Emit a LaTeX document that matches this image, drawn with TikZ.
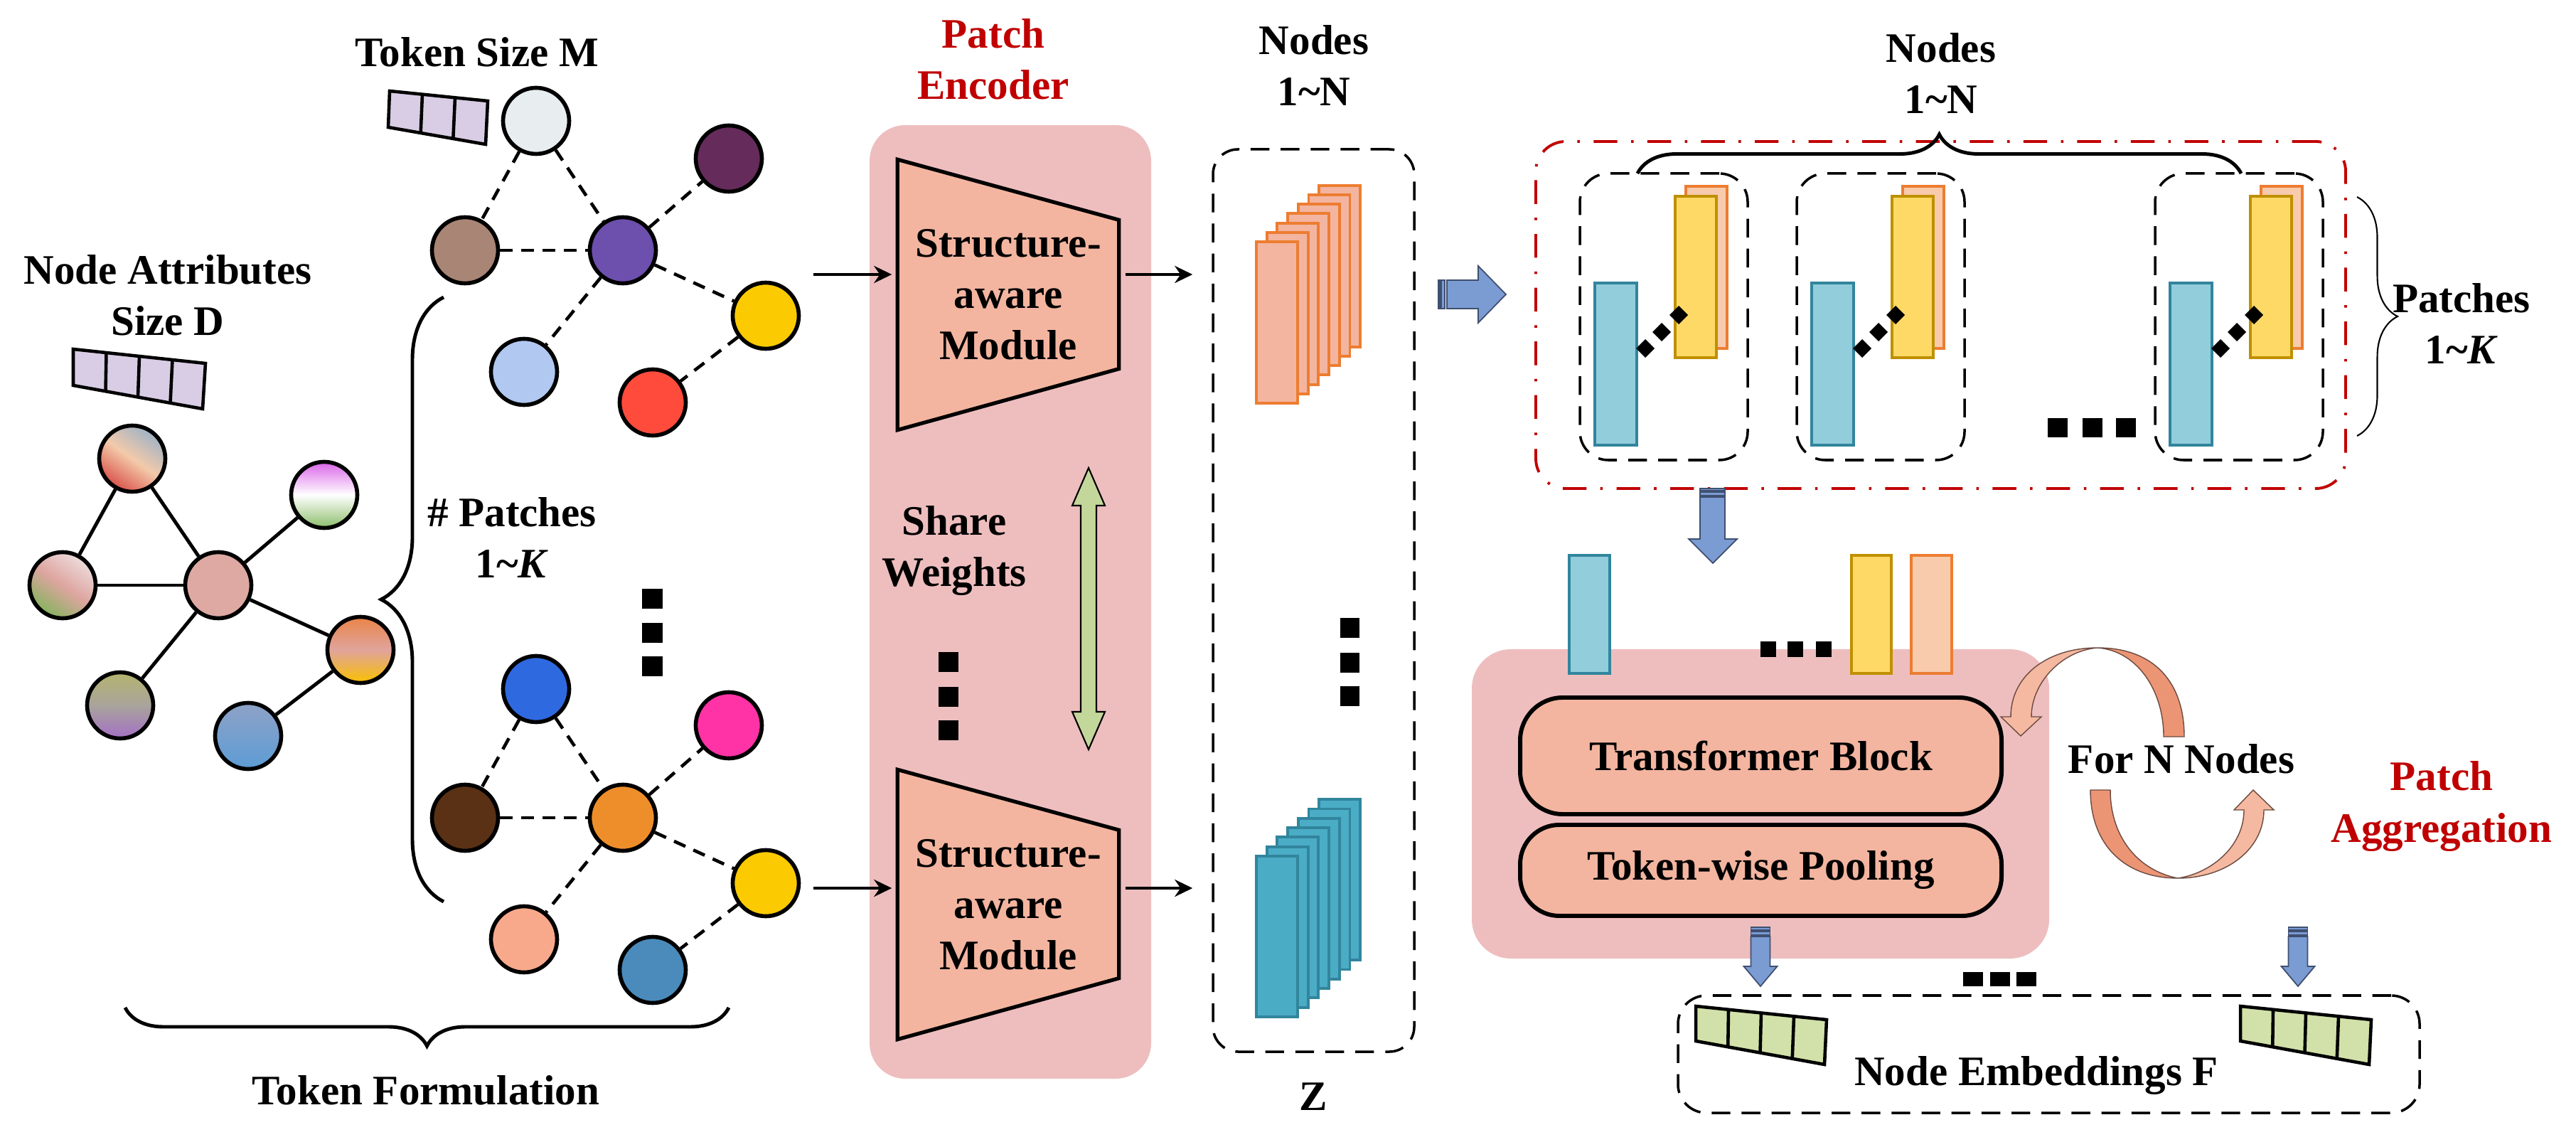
\documentclass[tikz,border=0pt]{standalone}
\usepackage{fontspec}
\setmainfont{Liberation Serif}
\usetikzlibrary{calc,positioning,arrows.meta,decorations.pathreplacing}

\definecolor{pinkbg}{HTML}{EEBEBF}
\definecolor{salmon}{HTML}{F3B5A0}
\definecolor{redtxt}{HTML}{C00000}
\definecolor{lavender}{HTML}{D8CDE4}
\definecolor{vecgreen}{HTML}{D1E1A9}
\definecolor{sharegreen}{HTML}{C4D79B}
\definecolor{arrblue}{HTML}{7B9BD3}
\definecolor{arrline}{HTML}{3F4F6F}
\definecolor{orangeline}{HTML}{ED7D31}
\definecolor{orangefill}{HTML}{F8CBAD}
\definecolor{tealline}{HTML}{31859C}
\definecolor{tealfill}{HTML}{92CDDC}
\definecolor{tealdark}{HTML}{4BACC6}
\definecolor{yellowfill}{HTML}{FFD966}
\definecolor{yellowline}{HTML}{BF9000}
\definecolor{loopdark}{HTML}{EC9575}
\definecolor{looplight}{HTML}{F4B9A0}
\definecolor{loopline}{HTML}{6B4A40}
% colours of the graph nodes
\definecolor{cgray}{HTML}{9EB2C6}
\definecolor{cpeach}{HTML}{F3CAAA}
\definecolor{cbrick}{HTML}{D9534A}
\definecolor{cmagenta}{HTML}{DA64E8}
\definecolor{cleaf}{HTML}{8BBD6A}
\definecolor{cblush}{HTML}{EDDCDC}
\definecolor{crose}{HTML}{DEA5A0}
\definecolor{cmoss}{HTML}{86B35F}
\definecolor{cdusty}{HTML}{DEA9A3}
\definecolor{ctangerine}{HTML}{E98448}
\definecolor{cpinkmid}{HTML}{E0A49C}
\definecolor{camber}{HTML}{F9C000}
\definecolor{colive}{HTML}{B5B46E}
\definecolor{cstone}{HTML}{A8A49C}
\definecolor{clilac}{HTML}{A56FC5}
\definecolor{csteelgray}{HTML}{8EA2C6}
\definecolor{csky}{HTML}{5D9CD6}
\definecolor{cmist}{HTML}{E8EDF0}
\definecolor{cmocha}{HTML}{A98575}
\definecolor{cviolet}{HTML}{6D4FAE}
\definecolor{cplum}{HTML}{652B5B}
\definecolor{cgold}{HTML}{FBCA00}
\definecolor{cbaby}{HTML}{B1C8F0}
\definecolor{ctomato}{HTML}{FF4B3C}
\definecolor{croyal}{HTML}{2F69E0}
\definecolor{cchoco}{HTML}{5A3114}
\definecolor{cpumpkin}{HTML}{EE8E2A}
\definecolor{chotpink}{HTML}{FF33A6}
\definecolor{capricot}{HTML}{F9A98B}
\definecolor{csteel}{HTML}{4A8BBC}

% feature vector: corners TL, TR, BR, BL, number of cells, fill
\newcommand{\featvec}[6]{%
  \draw[line width=1.3pt, fill=#6] #1 -- #2 -- #3 -- #4 -- cycle;
  \pgfmathtruncatemacro{\lastcut}{#5-1}
  \foreach \k in {1,...,\lastcut}
    \draw[line width=1.3pt] ($#1!\k/#5!#2$) -- ($#4!\k/#5!#3$);
}

\begin{document}
\begin{tikzpicture}[
    lbl/.style={font=\fontsize{16.8}{20.5}\selectfont\bfseries, align=center, inner sep=0pt},
    gnode/.style={circle, draw, line width=1.6pt, minimum size=0.93cm, inner sep=0pt},
    aedge/.style={line width=1.4pt},
    pedge/.style={line width=1.3pt, dash pattern=on 5pt off 3.5pt},
    arr/.style={-{Stealth[length=0.25cm, width=0.24cm]}, line width=1.2pt},
    dbox/.style={draw, line width=1pt, dash pattern=on 7.5pt off 4.5pt, rounded corners=0.4cm, inner sep=0pt},
    bracedeco/.style={decorate, decoration={brace, amplitude=#1}, line width=1.4pt},
    blockarr/.style={fill=arrblue, draw=arrline, line width=0.5pt},
    loopdk/.style={fill=loopdark, draw=loopline, line width=0.4pt},
    looplt/.style={fill=looplight, draw=loopline, line width=0.4pt}
  ]
  \useasboundingbox (0,0) rectangle (36.23,-16.06);

  % input graph with node attributes
  \node[lbl, anchor=base] (attrlbl) at (2.36,-4.72) {Node Attributes\\Size D};
  \featvec{(1.03,-4.91)}{(2.89,-5.11)}{(2.85,-5.75)}{(1.03,-5.42)}{4}{lavender}
  \node[gnode, top color=cgray, bottom color=cbrick, middle color=cpeach, shading angle=-35] (na1) at (1.86,-6.45) {};
  \node[gnode, top color=cmagenta, bottom color=cleaf, middle color=white] (na2) at (4.56,-6.96) {};
  \node[gnode, top color=cblush, bottom color=cmoss, middle color=crose, shading angle=-35] (na3) at (0.88,-8.23) {};
  \node[gnode, fill=cdusty] (na4) at (3.07,-8.23) {};
  \node[gnode, top color=ctangerine, bottom color=camber, middle color=cpinkmid] (na5) at (5.07,-9.14) {};
  \node[gnode, top color=colive, bottom color=clilac, middle color=cstone] (na6) at (1.69,-9.92) {};
  \node[gnode, top color=csteelgray, bottom color=csky] (na7) at (3.49,-10.35) {};
  \draw[aedge] (na1) -- (na3);
  \draw[aedge] (na1) -- (na4);
  \draw[aedge] (na3) -- (na4);
  \draw[aedge] (na4) -- (na2);
  \draw[aedge] (na4) -- (na5);
  \draw[aedge] (na4) -- (na6);
  \draw[aedge] (na5) -- (na7);

  % patches
  \draw[bracedeco=0.88cm] (6.24,-12.68) -- (6.24,-4.18);
  \node[lbl, anchor=base] (numpatch) at (7.20,-8.13) {\# Patches\\1\textasciitilde\textit{K}};
  \node[lbl, anchor=base] (toklbl) at (6.71,-0.94) {Token Size M};
  \featvec{(5.48,-1.28)}{(6.86,-1.42)}{(6.83,-2.03)}{(5.46,-1.79)}{3}{lavender}

  % first patch
  \node[gnode, fill=cmist] (t1) at (7.54,-1.70) {};
  \node[gnode, fill=cmocha] (t2) at (6.54,-3.52) {};
  \node[gnode, fill=cviolet] (t3) at (8.76,-3.52) {};
  \node[gnode, fill=cplum] (t4) at (10.25,-2.23) {};
  \node[gnode, fill=cgold] (t5) at (10.77,-4.44) {};
  \node[gnode, fill=cbaby] (t6) at (7.37,-5.23) {};
  \node[gnode, fill=ctomato] (t7) at (9.18,-5.66) {};
  \draw[pedge] (t1) -- (t2);
  \draw[pedge] (t1) -- (t3);
  \draw[pedge] (t2) -- (t3);
  \draw[pedge] (t3) -- (t4);
  \draw[pedge] (t3) -- (t5);
  \draw[pedge] (t3) -- (t6);
  \draw[pedge] (t5) -- (t7);

  % last patch
  \node[gnode, fill=croyal] (b1) at (7.54,-9.69) {};
  \node[gnode, fill=cchoco] (b2) at (6.54,-11.50) {};
  \node[gnode, fill=cpumpkin] (b3) at (8.76,-11.50) {};
  \node[gnode, fill=chotpink] (b4) at (10.25,-10.20) {};
  \node[gnode, fill=cgold] (b5) at (10.77,-12.42) {};
  \node[gnode, fill=capricot] (b6) at (7.37,-13.21) {};
  \node[gnode, fill=csteel] (b7) at (9.18,-13.64) {};
  \draw[pedge] (b1) -- (b2);
  \draw[pedge] (b1) -- (b3);
  \draw[pedge] (b2) -- (b3);
  \draw[pedge] (b3) -- (b4);
  \draw[pedge] (b3) -- (b5);
  \draw[pedge] (b3) -- (b6);
  \draw[pedge] (b5) -- (b7);
  \foreach \y in {8.28, 8.76, 9.23}
    \fill (9.03,-\y) rectangle ++(0.29,-0.28);

  \draw[bracedeco=0.54cm] (10.25,-14.17) -- (1.76,-14.17);
  \node[lbl, anchor=base] (formlbl) at (5.99,-15.53) {Token Formulation};

  % patch encoder
  \node[lbl, anchor=base, text=redtxt] (enclbl) at (13.97,-1.40) {Patch\\Encoder};
  \fill[pinkbg, rounded corners=0.5cm] (12.23,-1.76) rectangle (16.19,-15.17);
  \node[minimum width=3.10cm, minimum height=3.79cm] (sam1) at (14.18,-4.145) {};
  \node[minimum width=3.10cm, minimum height=3.78cm] (sam2) at (14.18,-12.72) {};
  \foreach \m in {sam1, sam2}
    \draw[line width=1.5pt, fill=salmon] (\m.north west) -- ($(\m.north east)+(0,-0.85)$) -- ($(\m.south east)+(0,0.86)$) -- (\m.south west) -- cycle;
  \node[lbl] (samtxt1) at (sam1) {Structure-\\aware\\Module};
  \node[lbl] (samtxt2) at (sam2) {Structure-\\aware\\Module};
  \node[lbl, anchor=base] (sharelbl) at (13.42,-8.25) {Share\\Weights};
  \draw[line width=0.6pt, fill=sharegreen] (15.20,-7.11) -- (15.08,-7.11) -- (15.31,-6.58) -- (15.54,-7.11) -- (15.42,-7.11) -- (15.42,-10.01) -- (15.54,-10.01) -- (15.31,-10.54) -- (15.08,-10.01) -- (15.20,-10.01) -- cycle;
  \foreach \y in {9.17, 9.66, 10.13}
    \fill (13.20,-\y) rectangle ++(0.28,-0.28);

  % patch embeddings Z
  \node[lbl, anchor=base] (zhead) at (18.48,-1.49) {Nodes\\1\textasciitilde N};
  \node[dbox, rounded corners=0.35cm, minimum width=2.83cm, minimum height=12.69cm] (zbox) at (18.475,-8.445) {};
  \node[lbl, anchor=base] (zlbl) at (18.47,-15.61) {Z};
  \foreach \i in {6,...,0}
    \draw[line width=1.1pt, draw=orangeline, fill=salmon] ({17.67+0.147*\i},{-3.40+0.132*\i}) rectangle ++(0.58,-2.27);
  \foreach \i in {6,...,0}
    \draw[line width=1.1pt, draw=tealline, fill=tealdark] ({17.67+0.147*\i},{-12.04+0.133*\i}) rectangle ++(0.58,-2.26);
  \foreach \y in {8.69, 9.18, 9.65}
    \fill (18.85,-\y) rectangle ++(0.27,-0.28);

  % arrows through the encoder
  \coordinate (pin1) at (11.44,-3.86);
  \coordinate (pin2) at (11.44,-12.49);
  \draw[arr, shorten >=0.08cm] (pin1) -- (pin1 -| sam1.west);
  \draw[arr, shorten >=0.08cm] (pin2) -- (pin2 -| sam2.west);
  \draw[arr, shorten <=0.09cm, shorten >=0.27cm] (pin1 -| sam1.east) -- (pin1 -| zbox.west);
  \draw[arr, shorten <=0.09cm, shorten >=0.27cm] (pin2 -| sam2.east) -- (pin2 -| zbox.west);

  % block arrow to the patch tokens
  \draw[blockarr] (20.23,-3.94) rectangle (20.25,-4.34);
  \draw[blockarr] (20.27,-3.94) rectangle (20.32,-4.34);
  \draw[blockarr] (20.35,-3.94) -- (20.79,-3.94) -- (20.79,-3.74) -- (21.18,-4.14) -- (20.79,-4.54) -- (20.79,-4.34) -- (20.35,-4.34) -- cycle;

  % patch tokens of all nodes
  \node[draw=redtxt, line width=1.1pt, dash pattern=on 9.5pt off 5.5pt on 1pt off 5.5pt, rounded corners=0.42cm, minimum width=11.39cm, minimum height=4.88cm, inner sep=0pt] (redbox) at (27.295,-4.43) {};
  \foreach \bx [count=\i] in {22.22, 25.27, 30.31} {
    \node[dbox, minimum width=2.36cm, minimum height=4.03cm] (pbox\i) at (\bx+1.18,-4.455) {};
    \draw[line width=1.1pt, draw=orangeline, fill=orangefill] (\bx+1.49,-2.62) rectangle (\bx+2.07,-4.90);
    \draw[line width=1.1pt, draw=yellowline, fill=yellowfill] (\bx+1.34,-2.76) rectangle (\bx+1.92,-5.03);
    \draw[line width=1.1pt, draw=tealline, fill=tealfill] (\bx+0.21,-3.98) rectangle (\bx+0.80,-6.26);
    \foreach \dx/\dy in {0.92/4.90, 1.15/4.67, 1.39/4.43}
      \fill (\bx+\dx,-\dy) +(0,0.13) -- +(0.13,0) -- +(0,-0.13) -- +(-0.13,0) -- cycle;
  }
  \foreach \x in {28.80, 29.29, 29.76}
    \fill (\x,-5.88) rectangle ++(0.28,-0.27);
  \draw[bracedeco=0.55cm] (23.03,-2.44) -- (31.52,-2.44);
  \node[lbl, anchor=base] (nodeshead) at (27.30,-1.60) {Nodes\\1\textasciitilde N};
  \draw[bracedeco=0.57cm, line width=0.6pt] (33.15,-2.77) -- (33.15,-6.13);
  \node[lbl, anchor=base] (patchhead) at (34.62,-5.12) {Patches\\1\textasciitilde\textit{K}};

  % block arrow down to the aggregation
  \draw[blockarr] (23.91,-6.87) rectangle (24.26,-6.90);
  \draw[blockarr] (23.91,-6.92) rectangle (24.26,-6.97);
  \draw[blockarr] (23.91,-6.99) -- (23.91,-7.58) -- (23.75,-7.58) -- (24.09,-7.92) -- (24.43,-7.58) -- (24.26,-7.58) -- (24.26,-6.99) -- cycle;

  % patch aggregation
  \fill[pinkbg, rounded corners=0.55cm] (20.70,-9.13) rectangle (28.82,-13.48);
  \draw[line width=1.1pt, draw=tealline, fill=tealfill] (22.07,-7.81) rectangle (22.64,-9.47);
  \draw[line width=1.1pt, draw=yellowline, fill=yellowfill] (26.04,-7.81) rectangle (26.60,-9.47);
  \draw[line width=1.1pt, draw=orangeline, fill=orangefill] (26.88,-7.81) rectangle (27.45,-9.47);
  \foreach \x in {24.76, 25.14, 25.54}
    \fill (\x,-9.02) rectangle ++(0.22,-0.22);
  \node[lbl, draw, line width=1.7pt, fill=salmon, rounded corners=0.6cm, minimum width=6.77cm, minimum height=1.64cm] (tfblock) at (24.765,-10.63) {Transformer Block};
  \node[lbl, draw, line width=1.7pt, fill=salmon, rounded corners=0.55cm, minimum width=6.77cm, minimum height=1.28cm] (pool) at (24.765,-12.24) {Token-wise Pooling};

  % loop over the nodes
  \draw[loopdk] (30.72,-10.36) .. controls (30.72,-9.60) and (30.30,-9.11) .. (29.50,-9.11) .. controls (30.05,-9.15) and (30.43,-9.70) .. (30.43,-10.36) -- cycle;
  \draw[looplt] (29.50,-9.11) .. controls (28.80,-9.11) and (28.28,-9.50) .. (28.28,-10.08) -- (28.14,-10.08) -- (28.42,-10.35) -- (28.71,-10.08) -- (28.57,-10.08) .. controls (28.57,-9.60) and (29.00,-9.15) .. (29.50,-9.11) -- cycle;
  \draw[loopdk] (29.40,-11.11) .. controls (29.40,-11.90) and (29.90,-12.35) .. (30.63,-12.35) .. controls (30.10,-12.25) and (29.68,-11.80) .. (29.68,-11.11) -- cycle;
  \draw[looplt] (30.63,-12.35) .. controls (31.30,-12.35) and (31.84,-11.95) .. (31.84,-11.39) -- (31.98,-11.39) -- (31.69,-11.11) -- (31.42,-11.39) -- (31.56,-11.39) .. controls (31.56,-11.90) and (31.10,-12.28) .. (30.63,-12.35) -- cycle;
  \node[lbl, anchor=base] (fornodes) at (30.68,-10.87) {For N Nodes};
  \node[lbl, anchor=base, text=redtxt] (agglbl) at (34.34,-11.84) {Patch\\Aggregation};

  % node embeddings
  \foreach \cx in {24.76, 32.32} {
    \draw[blockarr] (\cx-0.135,-13.04) rectangle (\cx+0.135,-13.08);
    \draw[blockarr] (\cx-0.135,-13.10) rectangle (\cx+0.135,-13.15);
    \draw[blockarr] (\cx-0.135,-13.17) -- (\cx-0.135,-13.59) -- (\cx-0.235,-13.59) -- (\cx,-13.87) -- (\cx+0.235,-13.59) -- (\cx+0.135,-13.59) -- (\cx+0.135,-13.17) -- cycle;
  }
  \foreach \x in {27.61, 27.99, 28.36}
    \fill (\x,-13.67) rectangle ++(0.28,-0.20);
  \node[dbox, minimum width=10.43cm, minimum height=1.65cm] (embbox) at (28.815,-14.825) {};
  \featvec{(23.85,-14.15)}{(25.69,-14.34)}{(25.66,-14.97)}{(23.85,-14.64)}{4}{vecgreen}
  \featvec{(31.51,-14.15)}{(33.35,-14.34)}{(33.32,-14.97)}{(31.51,-14.64)}{4}{vecgreen}
  \node[lbl, anchor=base] (emblbl) at (28.64,-15.26) {Node Embeddings F};
\end{tikzpicture}
\end{document}
